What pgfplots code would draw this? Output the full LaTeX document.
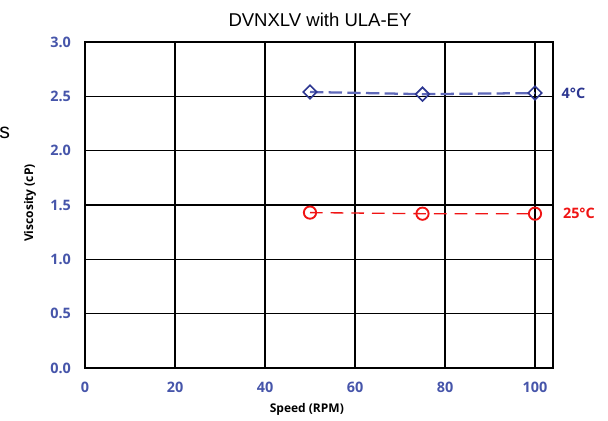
\documentclass[border=0pt]{standalone}
\usepackage{pgfplots}
\pgfplotsset{compat=1.18}
\usepackage{fontspec}
\setmainfont{Open Sans}
\newfontfamily\titlefont{Liberation Sans}
\definecolor{tickblue}{RGB}{70,85,170}
\definecolor{mblue}{RGB}{45,55,145}
\definecolor{lblue}{RGB}{95,105,185}
\definecolor{mred}{RGB}{240,20,20}
\begin{document}
\begin{tikzpicture}[x=0.75pt,y=0.75pt]
\path[use as bounding box] (0,0) rectangle (608,421);
\begin{axis}[
  at={(63.75pt,39.75pt)}, anchor=south west,
  scale only axis, width=351pt, height=244.5pt,
  xmin=0, xmax=104, ymin=0, ymax=3,
  xtick={0,20,40,60,80,100}, ytick={0,0.5,1,1.5,2,2.5,3},
  yticklabel style={/pgf/number format/fixed, /pgf/number format/fixed zerofill, /pgf/number format/precision=1, xshift=-7pt},
  grid=major, major grid style={black, line width=1.1pt},
  axis line style={black, line width=1.5pt},
  major tick length=0pt,
  tick label style={font=\fontsize{10.8}{12}\selectfont\bfseries, text=tickblue},
  /pgf/number format/assume math mode=true,
  xticklabel style={yshift=-7pt},
  clip=false,
  xlabel={Speed (RPM)}, ylabel={Viscosity (cP)},
  label style={font=\fontsize{9}{10}\selectfont\bfseries, text=black},
  xlabel style={at={(axis description cs:0.474,-0.126)}, anchor=center},
  ylabel style={at={(axis description cs:-0.1175,0.506)}, anchor=center},
]
\addplot[lblue, line width=1.7pt, dash pattern=on 10pt off 4pt,
  mark=square, mark size=3.6pt,
  mark options={solid, rotate=45, draw=mblue, fill=none, line width=1.2pt}]
  coordinates {(50,2.54) (75,2.52) (100,2.53)};
\addplot[mred, line width=1pt, dash pattern=on 9.5pt off 6pt,
  mark=o, mark size=4.6pt,
  mark options={solid, draw=mred, fill=none, line width=1.4pt}]
  coordinates {(50,1.43) (75,1.42) (100,1.42)};
\node[anchor=west, text=mblue, font=\fontsize{10.8}{12}\selectfont\bfseries, xshift=3pt]
  at (axis cs:104,2.53) {4°C};
\node[anchor=west, text=mred, font=\fontsize{10.8}{12}\selectfont\bfseries, xshift=4pt]
  at (axis cs:104,1.42) {25°C};
\end{axis}
\node[font=\titlefont\fontsize{13.9}{15}\selectfont, text=black] at (320,401) {DVNXLV with ULA-EY};
\node[anchor=west, inner sep=0pt, font=\titlefont\fontsize{16}{17}\selectfont] at (-1,288) {s};
\end{tikzpicture}
\end{document}
